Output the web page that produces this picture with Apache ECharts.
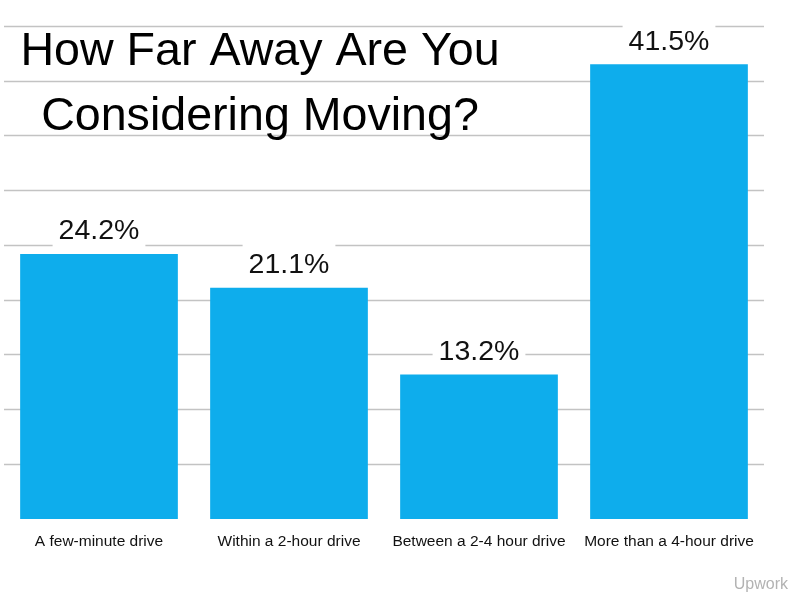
<!DOCTYPE html>
<html>
<head>
<meta charset="utf-8">
<script src="https://cdn.jsdelivr.net/npm/echarts@6/dist/echarts.min.js"></script>
<style>
  html, body { margin: 0; padding: 0; background: #ffffff; }
  #chart { width: 812px; height: 605px; }
</style>
</head>
<body>
<div id="chart"></div>
<script>
const titleText = 'How Far Away Are You\nConsidering Moving?';
const sourceText = 'Upwork';
const categories = ['A few-minute drive', 'Within a 2-hour drive', 'Between a 2-4 hour drive', 'More than a 4-hour drive'];
const shares = [24.2, 21.1, 13.2, 41.5];
const axisMin = 0;
const axisMax = 45;
const axisStep = 5;

const FONT = '"Liberation Sans", Arial, sans-serif';
const chart = echarts.init(document.getElementById('chart'), null, { renderer: 'canvas' });
chart.setOption({
  backgroundColor: '#ffffff',
  animation: false,
  title: {
    text: titleText,
    left: 255,
    top: 15,
    textAlign: 'center',
    textStyle: { fontFamily: FONT, fontSize: 46.6, fontWeight: 'normal', color: '#000000', lineHeight: 65 }
  },
  graphic: [{
    type: 'text',
    right: 24,
    top: 577,
    style: { text: sourceText, fontFamily: FONT, fontSize: 16, fill: '#b3b3b3' }
  }],
  grid: { left: 4, right: 48, top: 26, bottom: 86, containLabel: false },
  xAxis: {
    type: 'category',
    data: categories,
    axisLine: { show: false },
    axisTick: { show: false },
    axisLabel: { fontFamily: FONT, fontSize: 15.5, color: '#111111', margin: 15, interval: 0 }
  },
  yAxis: {
    type: 'value',
    min: axisMin,
    max: axisMax,
    interval: axisStep,
    axisLabel: { show: false },
    axisLine: { show: false },
    axisTick: { show: false },
    splitLine: { show: true, showMinLine: false, lineStyle: { color: '#c3c3c3', width: 1.3 } }
  },
  series: [{
    type: 'bar',
    data: shares,
    barCategoryGap: '17%',
    itemStyle: { color: '#0EADEC' },
    label: {
      show: true,
      position: 'top',
      distance: 4,
      formatter: p => p.value.toFixed(1) + '%',
      fontFamily: FONT,
      fontSize: 28.5,
      color: '#111111',
      backgroundColor: '#ffffff',
      padding: [9, 6, 4, 6]
    }
  }]
});
</script>
</body>
</html>
